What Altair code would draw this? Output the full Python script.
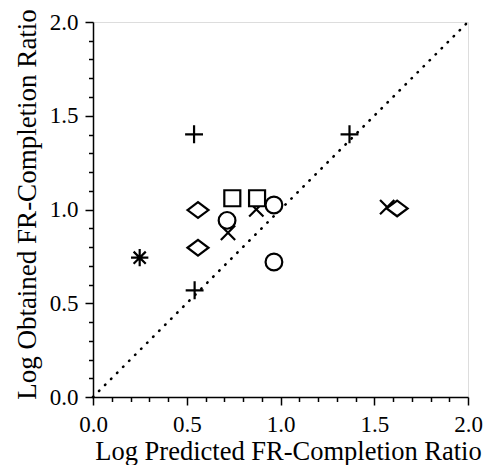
import altair as alt
import pandas as pd

# Data (x = log predicted, y = log obtained)
plus_x = [0.539, 0.542, 1.368]
plus_y = [1.401, 0.569, 1.401]
cross_x = [0.720, 0.871, 1.569]
cross_y = [0.876, 1.001, 1.013]
star_x = [0.249]
star_y = [0.743]
diamond_x = [0.560, 0.560, 1.622]
diamond_y = [0.997, 0.796, 1.006]
square_x = [0.743, 0.875]
square_y = [1.060, 1.060]
circle_x = [0.715, 0.965, 0.965]
circle_y = [0.942, 1.024, 0.720]

diag_x = [0.0, 2.0]
diag_y = [0.0, 2.0]

tick_values = [i / 10 for i in range(21)]

groups = [
    ("plus", plus_x, plus_y, "M-1,0L1,0M0,-1L0,1", 320),
    ("cross", cross_x, cross_y, "M-0.8,-0.8L0.8,0.8M-0.8,0.8L0.8,-0.8", 320),
    ("star", star_x, star_y,
     "M-1,0L1,0M0,-1L0,1M-0.7,-0.7L0.7,0.7M-0.7,0.7L0.7,-0.7", 300),
    ("diamond", diamond_x, diamond_y, "M-1,0L0,-0.75L1,0L0,0.75Z", 441),
    ("square", square_x, square_y, "square", 256),
    ("circle", circle_x, circle_y, "circle", 280),
]

FONT = "Liberation Serif"
half_test = "abs(datum.value*2 - round(datum.value*2)) < 0.001"

def make_axis(title, **kw):
    return alt.Axis(
        title=title,
        values=tick_values,
        labelExpr=f"{half_test} ? format(datum.value, '.1f') : ''",
        labelOverlap=False,
        labelFlush=False,
        grid=False,
        domainColor="black",
        domainWidth=1.5,
        tickColor="black",
        tickWidth=1.5,
        tickSize={"condition": {"test": half_test, "value": 8}, "value": 4.5},
        labelFont=FONT,
        labelFontSize=23,
        labelColor="black",
        titleFont=FONT,
        titleFontWeight="normal",
        titleColor="black",
        **kw,
    )

xscale = alt.Scale(domain=[0, 2], nice=False, zero=False)
yscale = alt.Scale(domain=[0, 2], nice=False, zero=False)

x_axis = make_axis("Log Predicted FR-Completion Ratio", titleFontSize=26.5,
                   labelPadding=8, titlePadding=2, titleX=195)
y_axis = make_axis("Log Obtained FR-Completion Ratio", titleFontSize=27,
                   labelPadding=7, titlePadding=8, titleY=182)

diag = alt.Chart(pd.DataFrame({"x": diag_x, "y": diag_y})).mark_line(
    color="black", strokeWidth=2.6, strokeDash=[0.5, 8], strokeCap="round"
).encode(
    x=alt.X("x:Q", scale=xscale, axis=x_axis),
    y=alt.Y("y:Q", scale=yscale, axis=y_axis),
)

layers = [diag]
for name, xs, ys, shape, size in groups:
    df = pd.DataFrame({"x": xs, "y": ys})
    layers.append(
        alt.Chart(df).mark_point(
            shape=shape, size=size, filled=True, fill="white",
            stroke="black", strokeWidth=2.2, opacity=1,
        ).encode(
            x=alt.X("x:Q", scale=xscale, axis=x_axis),
            y=alt.Y("y:Q", scale=yscale, axis=y_axis),
        )
    )

chart = alt.layer(*layers).properties(
    width=375, height=375,
    padding={"left": 5, "top": 0, "right": 0, "bottom": 0},
).configure_view(stroke=None).configure(background="white")

chart.save("out.html", embed_options={"renderer": "svg", "actions": False})
